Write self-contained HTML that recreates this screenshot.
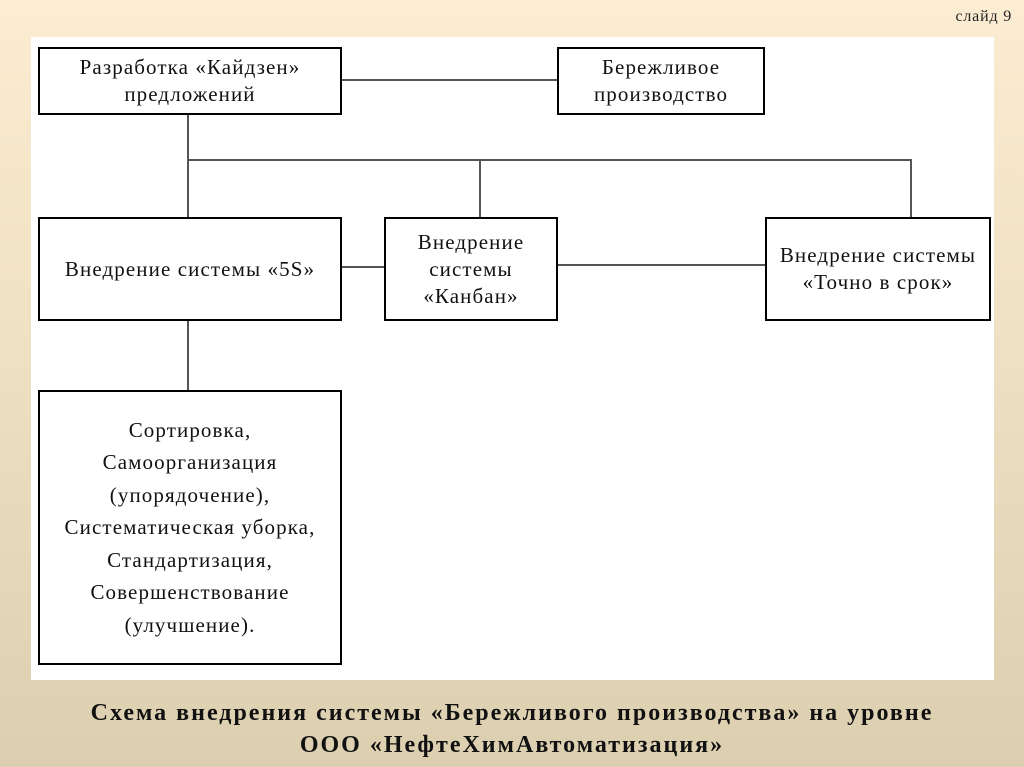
<!DOCTYPE html>
<html><head><meta charset="utf-8"><style>
body{margin:0;width:1024px;height:767px;overflow:hidden;background:linear-gradient(to bottom,#fcecd2 0%,#f0e2c4 40%,#dccfb0 100%);font-family:"Liberation Serif",serif;position:relative}
.w{position:absolute;left:31px;top:37px;width:963px;height:643px;background:#fff}
.b{position:absolute;border:2px solid #000;background:#fff;box-sizing:border-box;display:flex;align-items:center;justify-content:center;text-align:center;font-size:21px;line-height:27px;color:#111;letter-spacing:1.1px;white-space:nowrap}
.l{position:absolute;background:#555}
.t{position:absolute;left:0;width:1024px;text-align:center;font-weight:bold;font-size:24px;line-height:32px;top:697px;color:#111;letter-spacing:2px;white-space:nowrap}
.s{position:absolute;right:12px;top:8px;font-size:16px;color:#222;letter-spacing:0.8px}
</style></head><body>
<div class="s">слайд 9</div>
<div class="w"></div>
<div class="l" style="left:342px;top:79px;width:215px;height:2px"></div>
<div class="l" style="left:187px;top:114px;width:2px;height:103px"></div>
<div class="l" style="left:187px;top:159px;width:725px;height:2px"></div>
<div class="l" style="left:479px;top:159px;width:2px;height:58px"></div>
<div class="l" style="left:910px;top:159px;width:2px;height:58px"></div>
<div class="l" style="left:341px;top:266px;width:43px;height:2px"></div>
<div class="l" style="left:557px;top:264px;width:208px;height:2px"></div>
<div class="l" style="left:187px;top:320px;width:2px;height:70px"></div>
<div class="b" style="left:38px;top:47px;width:304px;height:68px">Разработка «Кайдзен»<br>предложений</div>
<div class="b" style="left:557px;top:47px;width:208px;height:68px">Бережливое<br>производство</div>
<div class="b" style="left:38px;top:217px;width:304px;height:104px">Внедрение системы «5S»</div>
<div class="b" style="left:384px;top:217px;width:174px;height:104px">Внедрение<br>системы<br>«Канбан»</div>
<div class="b" style="left:765px;top:217px;width:226px;height:104px">Внедрение системы<br>«Точно в срок»</div>
<div class="b" style="left:38px;top:390px;width:304px;height:275px;line-height:32.5px">Сортировка,<br>Самоорганизация<br>(упорядочение),<br>Систематическая уборка,<br>Стандартизация,<br>Совершенствование<br>(улучшение).</div>
<div class="t">Схема внедрения системы «Бережливого производства» на уровне<br>ООО «НефтеХимАвтоматизация»</div>
</body></html>
